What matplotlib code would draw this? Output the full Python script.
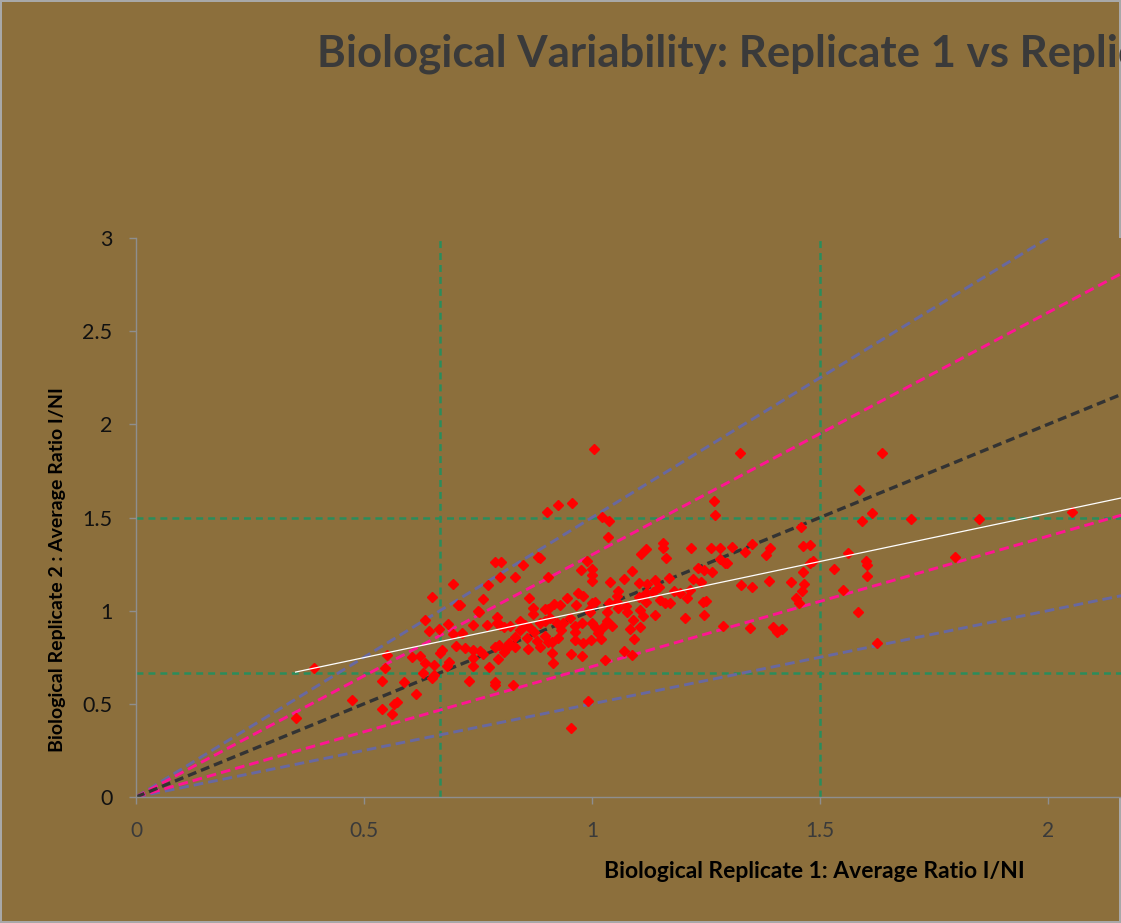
import matplotlib
matplotlib.use("Agg")
import matplotlib.pyplot as plt
import numpy as np

# ---------------- data ----------------
rep1 = [
    0.39, 0.351, 0.473, 0.54, 0.562, 0.566, 0.573, 0.539, 0.588, 0.614, 0.55, 0.547, 0.606, 0.623,
    0.634, 0.63, 0.654, 0.65, 0.634, 0.65, 0.643, 0.665, 0.685, 0.696, 0.707, 0.696, 0.701, 0.67,
    0.667, 0.681, 0.686, 0.654,
    1.005, 0.956, 0.926, 0.901, 1.023, 1.037, 1.034, 0.99, 0.975, 1.0, 1.0, 1.0, 1.039, 0.881,
    0.887, 0.848, 0.787, 0.8, 0.831, 0.798, 0.903, 0.773, 0.762, 0.862, 0.946, 0.97, 0.981, 0.966,
    0.917, 0.93, 0.897, 0.904, 0.871, 0.752, 0.791, 0.792, 0.798, 0.806, 0.82, 0.842, 0.853, 0.864,
    0.886, 0.897, 0.908, 0.923, 0.937, 0.952, 0.963, 0.977, 0.999, 1.007, 0.996, 0.999, 1.007, 1.014,
    1.019, 1.025, 1.032, 1.043, 1.054, 1.054, 0.994, 0.963, 0.963, 0.981, 0.997, 0.955, 0.979, 0.933,
    0.926, 0.912, 0.903, 0.897, 0.88, 0.886, 0.86, 0.857, 0.831, 0.817, 0.813, 0.807, 0.797, 0.787,
    0.793, 0.74, 0.754, 0.762, 0.738, 0.721, 0.738, 0.775, 0.914, 0.912, 1.029, 0.992, 0.954, 0.731,
    0.787, 0.787, 0.826, 0.711, 0.714, 0.74, 0.769, 0.751, 0.871, 0.831, 0.842, 0.873,
    1.155, 1.155, 1.162, 1.118, 1.107,
    1.325, 1.39, 1.35, 1.336, 1.382, 1.388, 1.397, 1.406, 1.416, 1.346, 1.287, 1.327, 1.35, 1.268,
    1.27, 1.307, 1.28, 1.261, 1.217, 1.28, 1.292, 1.296, 1.263, 1.246, 1.232, 1.222, 1.239, 1.208,
    1.215, 1.243, 1.25, 1.246, 1.204, 1.193, 1.18, 1.169, 1.138, 1.112, 1.105, 1.092, 1.083, 1.09,
    1.07, 1.088, 1.07, 1.088, 1.103, 1.121, 1.138, 1.147, 1.134, 1.118, 1.103, 1.149, 1.16, 1.171,
    1.118, 1.057, 1.037, 1.033, 1.057, 1.077, 1.105, 1.075,
    1.637, 1.586, 1.614, 1.593, 1.458, 1.462, 1.478, 1.561, 1.6, 1.604, 1.604, 1.531, 1.485, 1.477,
    1.463, 1.466, 1.436, 1.46, 1.447, 1.455, 1.551, 1.583, 1.625,
    1.70, 1.849, 2.053, 1.796,
]
rep2 = [
    0.691, 0.426, 0.519, 0.471, 0.444, 0.501, 0.508, 0.621, 0.617, 0.553, 0.762, 0.691, 0.75, 0.757,
    0.718, 0.664, 0.707, 0.64, 0.95, 1.072, 0.891, 0.9, 0.927, 1.145, 1.031, 0.875, 0.811, 0.789,
    0.775, 0.703, 0.726, 0.653,
    1.868, 1.58, 1.566, 1.53, 1.501, 1.483, 1.394, 1.268, 1.218, 1.222, 1.192, 1.161, 1.152, 1.29,
    1.281, 1.245, 1.26, 1.26, 1.181, 1.181, 1.183, 1.138, 1.06, 1.067, 1.067, 1.093, 1.08, 1.031,
    1.034, 1.031, 1.009, 1.009, 0.981, 0.991, 0.968, 0.932, 0.923, 0.914, 0.919, 0.946, 0.923, 0.906,
    0.932, 0.945, 0.959, 0.932, 0.932, 0.959, 0.918, 0.932, 1.039, 1.048, 0.995, 0.932, 0.914, 0.882,
    0.846, 0.914, 0.946, 0.918, 1.079, 1.048, 1.004, 0.888, 0.843, 0.825, 0.843, 0.768, 0.758, 0.896,
    0.852, 0.834, 0.834, 0.866, 0.839, 0.807, 0.794, 0.852, 0.807, 0.825, 0.798, 0.78, 0.816, 0.807,
    0.741, 0.789, 0.785, 0.768, 0.745, 0.798, 0.703, 0.7, 0.718, 0.775, 0.735, 0.517, 0.372, 0.624,
    0.601, 0.619, 0.601, 1.031, 0.879, 0.923, 0.923, 0.998, 1.013, 0.861, 0.896, 0.888,
    1.362, 1.335, 1.285, 1.33, 1.304,
    1.847, 1.337, 1.358, 1.315, 1.299, 1.159, 0.913, 0.886, 0.902, 0.907, 0.918, 1.138, 1.127, 1.589,
    1.514, 1.342, 1.337, 1.337, 1.337, 1.277, 1.256, 1.256, 1.208, 1.218, 1.229, 1.17, 1.154, 1.068,
    1.111, 1.047, 1.052, 0.977, 0.961, 1.095, 1.106, 1.176, 0.977, 0.972, 0.913, 0.848, 0.902, 0.95,
    0.784, 0.762, 1.17, 1.213, 1.149, 1.143, 1.165, 1.127, 1.1, 1.095, 1.074, 1.057, 1.041, 1.041,
    1.047, 1.106, 1.041, 0.993, 1.014, 0.993, 1.004, 1.025,
    1.845, 1.648, 1.524, 1.48, 1.451, 1.346, 1.351, 1.308, 1.267, 1.245, 1.185, 1.226, 1.268, 1.254,
    1.208, 1.142, 1.152, 1.104, 1.067, 1.043, 1.109, 0.995, 0.825,
    1.49, 1.49, 1.53, 1.288,
]

# reference lines through the origin (fold-change bounds)
blue_slopes = [1.5, 0.5]
pink_slopes = [1.3, 0.7]
identity_slope = 1.0
cutoffs = [0.667, 1.5]           # green dashed thresholds
trend_slope = 0.516              # linear trendline
trend_intercept = 0.49
trend_x_start = 0.35

x_ticks = [0, 0.5, 1, 1.5, 2]
x_tick_labels = ["0", "0.5", "1", "1.5", "2"]
y_ticks = [0, 0.5, 1, 1.5, 2, 2.5, 3]
y_tick_labels = ["0", "0.5", "1", "1.5", "2", "2.5", "3"]

title = "Biological Variability: Replicate 1 vs Replicate 2"
xlabel = "Biological Replicate 1: Average Ratio I/NI"
ylabel = "Biological Replicate 2 : Average Ratio I/NI"

# ---------------- style ----------------
plt.rcParams['font.family'] = ['Lato', 'DejaVu Sans']
plt.rcParams['lines.scale_dashes'] = False
BG = "#8C6F3C"

W, H = 1121, 923
fig = plt.figure(figsize=(W / 100, H / 100), dpi=100)
fig.patch.set_facecolor(BG)
fig.patch.set_edgecolor("#a8a8a8")
fig.patch.set_linewidth(1.5)

XMAX = 2.5
px_per_x = 456.0
left_px, bottom_px, top_px = 136, 797, 238
ax = fig.add_axes([left_px / W, (H - bottom_px) / H,
                   XMAX * px_per_x / W, (bottom_px - top_px) / H])
ax.set_facecolor(BG)
ax.set_xlim(0, XMAX)
ax.set_ylim(0, 3)

xs = np.array([0, XMAX])
green = "#2A8D5C"
for c in cutoffs:
    ax.axvline(c, color=green, lw=1.8, dashes=(5, 3.6), zorder=1)
    ax.axhline(c, color=green, lw=1.8, dashes=(5, 3.6), zorder=1)

for s in blue_slopes:
    ax.plot(xs, s * xs, color="#6868A0", lw=2.1, dashes=(7, 3.6), zorder=2)
for s in pink_slopes:
    ax.plot(xs, s * xs, color="#FF1493", lw=2.1, dashes=(7, 3.6), zorder=2)
ax.plot(xs, identity_slope * xs, color="#333333", lw=2.4, dashes=(6.5, 3.6), zorder=2)

ax.plot(rep1, rep2, linestyle="none", marker="D", ms=4.8, color="#FF0000",
        mec="#FF0000", zorder=3)

tx = np.array([trend_x_start, XMAX])
ax.plot(tx, trend_intercept + trend_slope * tx, color="#FFFFFF", lw=0.9, zorder=4)

for sp in ["top", "right"]:
    ax.spines[sp].set_visible(False)
for sp in ["left", "bottom"]:
    ax.spines[sp].set_color("#8E8E8E")
    ax.spines[sp].set_linewidth(1)

ax.set_xticks(x_ticks)
ax.set_xticklabels(x_tick_labels)
ax.set_yticks(y_ticks)
ax.set_yticklabels(y_tick_labels)
ax.tick_params(axis="x", direction="out", length=5, width=1, color="#8E8E8E",
               pad=12, labelsize=15, labelcolor="#3A3A3A")
ax.tick_params(axis="y", direction="out", length=5, width=1, color="#8E8E8E",
               pad=12, labelsize=15.5, labelcolor="#111111")

fig.text(317 / W, (H - 67) / H, title, fontsize=31.5, fontweight="bold",
         color="#3A3A3A", ha="left", va="baseline")
fig.text(814 / W, (H - 871) / H, xlabel, fontsize=16.5, fontweight="bold",
         color="#000000", ha="center", va="center")
fig.text(57 / W, (H - 570) / H, ylabel, fontsize=14, fontweight="bold",
         color="#000000", ha="center", va="center", rotation=90)

fig.savefig("out.png", dpi=100, facecolor=BG, edgecolor=fig.patch.get_edgecolor())
